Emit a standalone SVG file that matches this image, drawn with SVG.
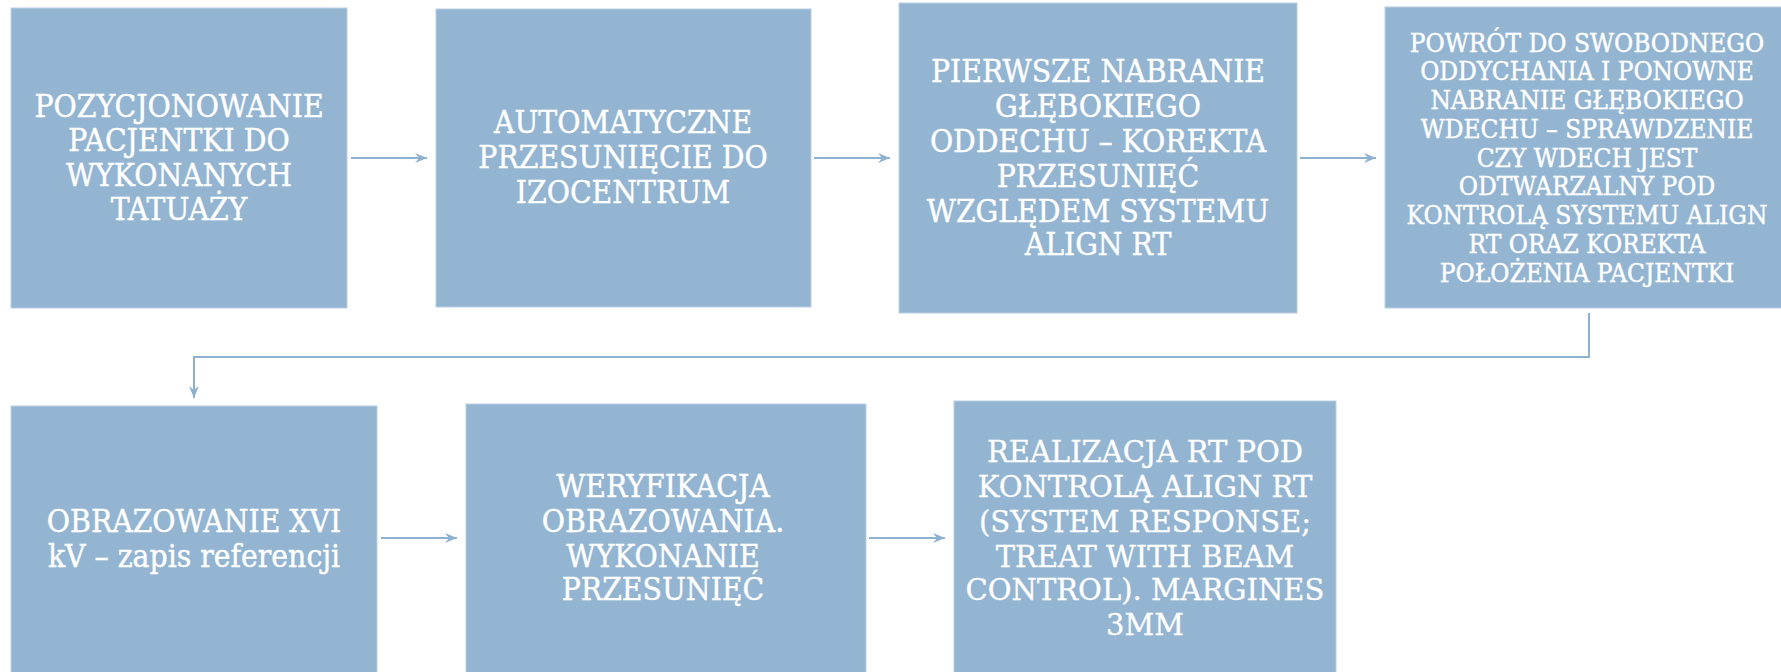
<svg xmlns="http://www.w3.org/2000/svg" width="1781" height="672" viewBox="0 0 1781 672">
<defs>
<style>
.box{fill:#94b5d2;stroke:#b9cfe3;stroke-width:1}
.t{fill:#ffffff;stroke:#ffffff;stroke-width:0.4;font-family:"DejaVu Serif Condensed","DejaVu Serif","Liberation Serif",serif;font-stretch:condensed;font-size:31.5px;text-anchor:middle}
.t4{font-size:26px}
.w{fill:#ffffff;stroke:#ffffff;stroke-width:0.3;font-family:"DejaVu Serif","Liberation Serif",serif;font-size:29px;text-anchor:middle}
.c{fill:none;stroke:#8fb1d0;stroke-width:2}
</style>
<marker id="ah" viewBox="0 0 12 10" refX="12" refY="5" markerWidth="12" markerHeight="10" markerUnits="userSpaceOnUse" orient="auto">
<path d="M0,0 L12,5 L0,10 L4,5 Z" fill="#8fb1d0"/>
</marker>
</defs>
<rect width="1781" height="672" fill="#ffffff"/>
<g id="connectors">
<path class="c" d="M351,158 L427,158" marker-end="url(#ah)"/>
<path class="c" d="M814,158 L890,158" marker-end="url(#ah)"/>
<path class="c" d="M1300,158 L1376,158" marker-end="url(#ah)"/>
<path class="c" d="M1589,313 L1589,357 L194,357 L194,398" marker-end="url(#ah)"/>
<path class="c" d="M381,538 L457,538" marker-end="url(#ah)"/>
<path class="c" d="M869,538 L945,538" marker-end="url(#ah)"/>
</g>
<g id="n1">
<rect class="box" x="11" y="8" width="336" height="300"/>
<text class="t" x="179" y="117">POZYCJONOWANIE</text>
<text class="t" x="179" y="151">PACJENTKI DO</text>
<text class="t" x="179" y="186">WYKONANYCH</text>
<text class="t" x="179" y="220">TATUAŻY</text>
</g>
<g id="n2">
<rect class="box" x="436" y="9" width="375" height="298"/>
<text class="t" x="623" y="133">AUTOMATYCZNE</text>
<text class="t" x="623" y="168">PRZESUNIĘCIE DO</text>
<text class="t" x="623" y="203">IZOCENTRUM</text>
</g>
<g id="n3">
<rect class="box" x="899" y="3" width="398" height="310"/>
<text class="t" x="1098" y="82">PIERWSZE NABRANIE</text>
<text class="t" x="1098" y="117">GŁĘBOKIEGO</text>
<text class="t" x="1098" y="152">ODDECHU – KOREKTA</text>
<text class="t" x="1098" y="187">PRZESUNIĘĆ</text>
<text class="t" x="1098" y="222">WZGLĘDEM SYSTEMU</text>
<text class="t" x="1098" y="255">ALIGN RT</text>
</g>
<g id="n4">
<rect class="box" x="1385" y="7" width="397" height="301"/>
<text class="t t4" x="1587" y="52">POWRÓT DO SWOBODNEGO</text>
<text class="t t4" x="1587" y="80">ODDYCHANIA I PONOWNE</text>
<text class="t t4" x="1587" y="109">NABRANIE GŁĘBOKIEGO</text>
<text class="t t4" x="1587" y="138">WDECHU – SPRAWDZENIE</text>
<text class="t t4" x="1587" y="167">CZY WDECH JEST</text>
<text class="t t4" x="1587" y="195">ODTWARZALNY POD</text>
<text class="t t4" x="1587" y="224">KONTROLĄ SYSTEMU ALIGN</text>
<text class="t t4" x="1587" y="253">RT ORAZ KOREKTA</text>
<text class="t t4" x="1587" y="282">POŁOŻENIA PACJENTKI</text>
</g>
<g id="n5">
<rect class="box" x="11" y="406" width="366" height="267"/>
<text class="t" x="194" y="532">OBRAZOWANIE XVI</text>
<text class="t" x="194" y="567">kV – zapis referencji</text>
</g>
<g id="n6">
<rect class="box" x="466" y="404" width="400" height="269"/>
<text class="t" x="663" y="497">WERYFIKACJA</text>
<text class="t" x="663" y="532">OBRAZOWANIA.</text>
<text class="t" x="663" y="567">WYKONANIE</text>
<text class="t" x="663" y="600">PRZESUNIĘĆ</text>
</g>
<g id="n7">
<rect class="box" x="954" y="401" width="382" height="272"/>
<text class="w" x="1145" y="462">REALIZACJA RT POD</text>
<text class="w" x="1145" y="497">KONTROLĄ ALIGN RT</text>
<text class="w" x="1145" y="532">(SYSTEM RESPONSE;</text>
<text class="w" x="1145" y="567">TREAT WITH BEAM</text>
<text class="w" x="1145" y="600">CONTROL). MARGINES</text>
<text class="w" x="1145" y="635">3MM</text>
</g>
</svg>
